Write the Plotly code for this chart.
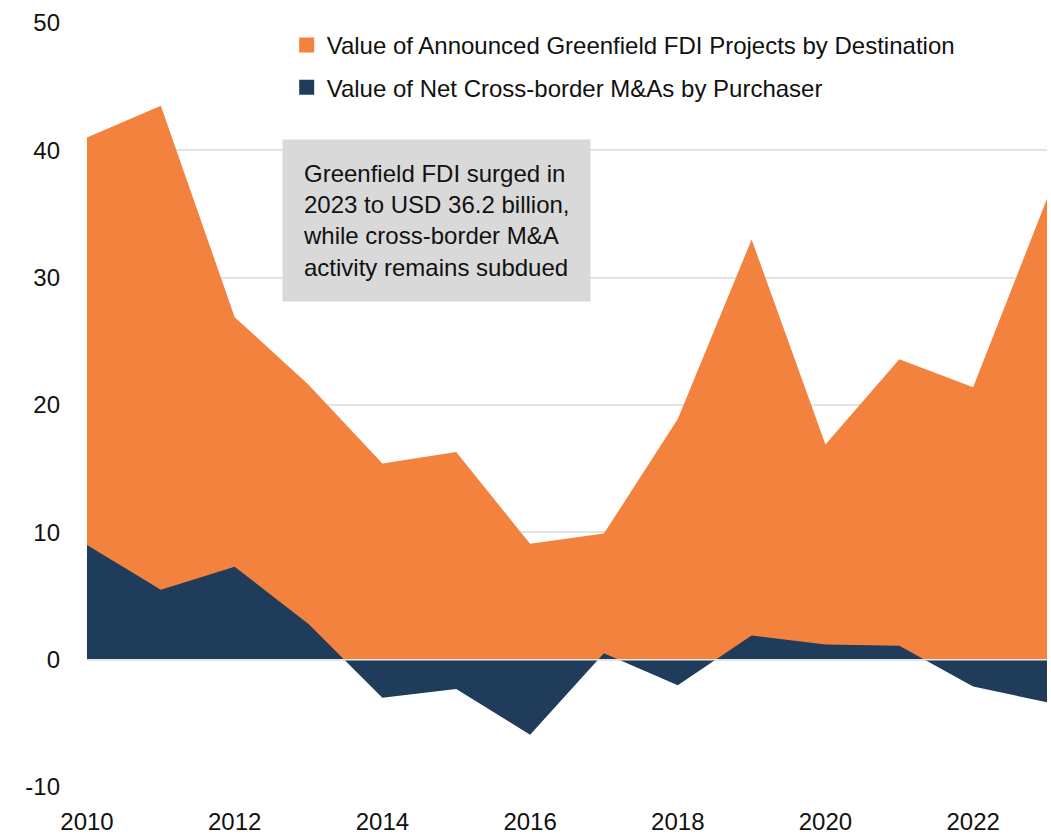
import plotly.graph_objects as go

years = list(range(2010, 2024))
greenfield = [41.0, 43.5, 26.9, 21.6, 15.4, 16.3, 9.1, 9.9, 18.9, 33.0, 16.9, 23.6, 21.4, 36.2]
mna = [9.0, 5.5, 7.3, 2.8, -3.0, -2.3, -5.9, 0.5, -2.0, 1.9, 1.2, 1.1, -2.1, -3.35]
series_names = ["Value of Announced Greenfield FDI Projects by Destination",
                "Value of Net Cross-border M&As by Purchaser"]
x_ticks = [2010, 2012, 2014, 2016, 2018, 2020, 2022]
y_ticks = [-10, 0, 10, 20, 30, 40, 50]
y_tick_text = ["-10", "0", "10", "20", "30", "40", "50"]
note = "Greenfield FDI surged in<br>2023 to USD 36.2 billion,<br>while cross-border M&A<br>activity remains subdued"

ORANGE = "#F3823F"
NAVY = "#1F3C5A"
FONT = "Liberation Sans, Arial, sans-serif"
FS = 24

fig = go.Figure()
fig.add_trace(go.Scatter(x=years, y=greenfield, name=series_names[0], mode="lines",
                         fill="tozeroy", fillcolor=ORANGE, line=dict(width=0, color=ORANGE),
                         showlegend=False))
fig.add_trace(go.Scatter(x=years, y=mna, name=series_names[1], mode="lines",
                         fill="tozeroy", fillcolor=NAVY, line=dict(width=0, color=NAVY),
                         showlegend=False))
# legend entries with square swatches
for nm, col, grp in [(series_names[0], ORANGE, "a"), (series_names[1], NAVY, "b")]:
    fig.add_trace(go.Scatter(x=[None], y=[None], mode="markers", name=nm, legendgroup=grp,
                             marker=dict(symbol="square", size=15, color=col)))

fig.add_shape(type="line", xref="paper", yref="y", x0=0, x1=1, y0=0, y1=0,
              line=dict(color="#E3E7EC", width=1.5), layer="above")

fig.add_annotation(xref="x", yref="y", x=2012.64, y=40.9, xanchor="left", yanchor="top",
                   text=note, showarrow=False, align="left",
                   font=dict(family=FONT, size=FS, color="#111111"),
                   bgcolor="#D9D9D9", borderpad=20)

fig.update_layout(
    width=1051, height=838,
    margin=dict(l=87, r=4, t=23, b=51, autoexpand=False),
    paper_bgcolor="white", plot_bgcolor="white",
    font=dict(family=FONT, size=FS, color="#111111"),
    showlegend=True,
    legend=dict(x=0.208, y=1.0, xanchor="left", yanchor="top",
                bgcolor="rgba(0,0,0,0)", font=dict(family=FONT, size=FS),
                itemwidth=30, tracegroupgap=8),
    xaxis=dict(range=[2010, 2023], tickvals=x_ticks, ticktext=[str(t) for t in x_ticks],
               showgrid=False, zeroline=False, showline=False, ticks="",
               ticklabelstandoff=18, automargin=False),
    yaxis=dict(range=[-10, 50], tickvals=y_ticks, ticktext=y_tick_text, showgrid=True,
               gridcolor="#E3E3E3", gridwidth=1.5, zeroline=False, showline=False, ticks="",
               ticklabelstandoff=26, automargin=False),
)

fig.write_html(
    "out.html",
    config={"displayModeBar": False},
    post_script="document.body.style.margin='0';document.documentElement.style.overflow='hidden';",
)
